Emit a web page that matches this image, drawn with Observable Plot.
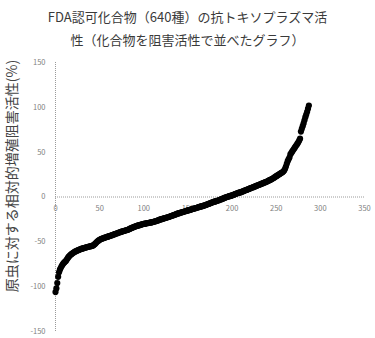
<!DOCTYPE html>
<html>
<head>
<meta charset="utf-8">
<script src="https://cdn.jsdelivr.net/npm/d3@7"></script>
<script src="https://cdn.jsdelivr.net/npm/@observablehq/plot@0.6"></script>
<style>
  html, body { margin: 0; padding: 0; background: #fff; }
  #wrap { width: 375px; height: 338px; overflow: hidden; }
  .title { width: 375px; height: 54px; box-sizing: border-box; padding-top: 5px;
    font-family: "Noto Sans CJK JP", sans-serif; font-size: 13px; color: #3a3a3a; text-align: center; line-height: 23px; }
</style>
</head>
<body>
<div id="wrap">
  <div class="title"><div id="t1"></div><div id="t2"></div></div>
  <div id="chart"></div>
</div>
<script>
const titleLines = ["FDA認可化合物（640種）の抗トキソプラズマ活", "性（化合物を阻害活性で並べたグラフ）"];
const yLabel = "原虫に対する相対的増殖阻害活性(%)";
const xTicks = [0, 50, 100, 150, 200, 250, 300, 350];
const yTicks = [-150, -100, -50, 0, 50, 100, 150];
// inhibition activity (%) of compounds, sorted ascending (index = rank)
const activity = [
  -106, -102, -96, -89, -84, -81, -79, -77, -75.5, -74,
  -73, -72, -71, -69.5, -68, -66.5, -65.5, -64.5, -63.8, -63,
  -62.2, -61.6, -61, -60.5, -60, -59.6, -59.2, -58.8, -58.3, -57.9,
  -57.6, -57.3, -57, -56.7, -56.4, -56.1, -55.8, -55.5, -55.3, -55.1,
  -54.9, -54.6, -54.3, -53.8, -53, -52, -51, -50, -49.2, -48.4,
  -47.8, -47.2, -46.8, -46.4, -46, -45.6, -45.3, -45, -44.6, -44.3,
  -44, -43.6, -43.3, -43, -42.6, -42.2, -41.9, -41.5, -41.1, -40.7,
  -40.4, -40, -39.7, -39.3, -39, -38.6, -38.3, -38, -37.7, -37.4,
  -37.1, -36.8, -36.5, -36.1, -35.6, -35.1, -34.6, -34.2, -33.8, -33.4,
  -33, -32.7, -32.3, -32, -31.7, -31.4, -31.1, -30.8, -30.5, -30.2,
  -30, -29.8, -29.6, -29.4, -29.2, -29, -28.8, -28.6, -28.4, -28.2,
  -28, -27.7, -27.4, -27.1, -26.8, -26.5, -26.1, -25.7, -25.3, -25,
  -24.7, -24.4, -24.1, -23.8, -23.5, -23.2, -22.9, -22.6, -22.3, -22,
  -21.6, -21.2, -20.9, -20.5, -20.1, -19.8, -19.4, -19, -18.6, -18.3,
  -18, -17.7, -17.4, -17.1, -16.8, -16.5, -16.2, -15.9, -15.6, -15.3,
  -15, -14.7, -14.4, -14.1, -13.8, -13.5, -13.2, -12.9, -12.6, -12.3,
  -12, -11.7, -11.4, -11.1, -10.8, -10.5, -10.2, -9.9, -9.6, -9.3,
  -9, -8.6, -8.2, -7.8, -7.4, -7, -6.6, -6.2, -5.9, -5.5,
  -5.2, -4.9, -4.6, -4.3, -4, -3.6, -3.2, -2.8, -2.4, -2,
  -1.6, -1.2, -0.8, -0.4, 0, 0.3, 0.6, 0.9, 1.2, 1.5,
  1.9, 2.2, 2.6, 3, 3.4, 3.8, 4.2, 4.5, 4.8, 5.1,
  5.4, 5.8, 6.2, 6.6, 7, 7.4, 7.8, 8.2, 8.6, 9,
  9.4, 9.8, 10.2, 10.6, 11, 11.4, 11.8, 12.2, 12.6, 13,
  13.4, 13.8, 14.2, 14.6, 15, 15.4, 15.8, 16.2, 16.6, 17,
  17.5, 18, 18.5, 19, 19.5, 20, 20.6, 21.2, 21.8, 22.5,
  23.2, 23.8, 24.4, 25, 25.7, 26.4, 27, 27.6, 28.4, 29.5,
  31.5, 34, 37, 40, 42, 44,
  47.5, 49, 50.5, 52, 53.5, 55, 56.5, 58, 59.5, 61, 63, 65,
  73, 76, 79, 82, 85.5, 89, 92, 95, 98.5, 102
];

document.getElementById("t1").textContent = titleLines[0];
document.getElementById("t2").textContent = titleLines[1];

const pts = activity.map((v, i) => ({rank: i, value: v}));
const font = "Noto Sans CJK JP, sans-serif";

const chart = Plot.plot({
  width: 375,
  height: 284,
  marginLeft: 55,
  marginRight: 11,
  marginTop: 8,
  marginBottom: 7,
  style: {fontFamily: font, background: "#fff"},
  x: {domain: [0, 350], axis: null},
  y: {domain: [-150, 150], axis: null},
  marks: [
    Plot.ruleX([0], {y1: -150, y2: 150, stroke: "#9a9a9a", strokeDasharray: "1,1", strokeWidth: 1}),
    Plot.ruleY([0], {x1: 0, x2: 350, stroke: "#9a9a9a", strokeDasharray: "1,1", strokeWidth: 1}),
    Plot.text(yTicks, {x: 0, y: d => d, text: d => String(d), dx: -10, textAnchor: "end", fontSize: 7.5, fill: "#808080"}),
    Plot.text(xTicks, {x: d => d, y: 0, text: d => String(d), dy: 12, fontSize: 7.5, fill: "#808080"}),
    Plot.text([yLabel], {frameAnchor: "left", text: d => d, textAnchor: "middle", rotate: -90, dx: -43, dy: -21, fontSize: 14, fill: "#444"}),
    Plot.dot(pts, {x: "rank", y: "value", r: 3.1, fill: "#000", stroke: "none"})
  ]
});
document.getElementById("chart").appendChild(chart);
</script>
</body>
</html>
